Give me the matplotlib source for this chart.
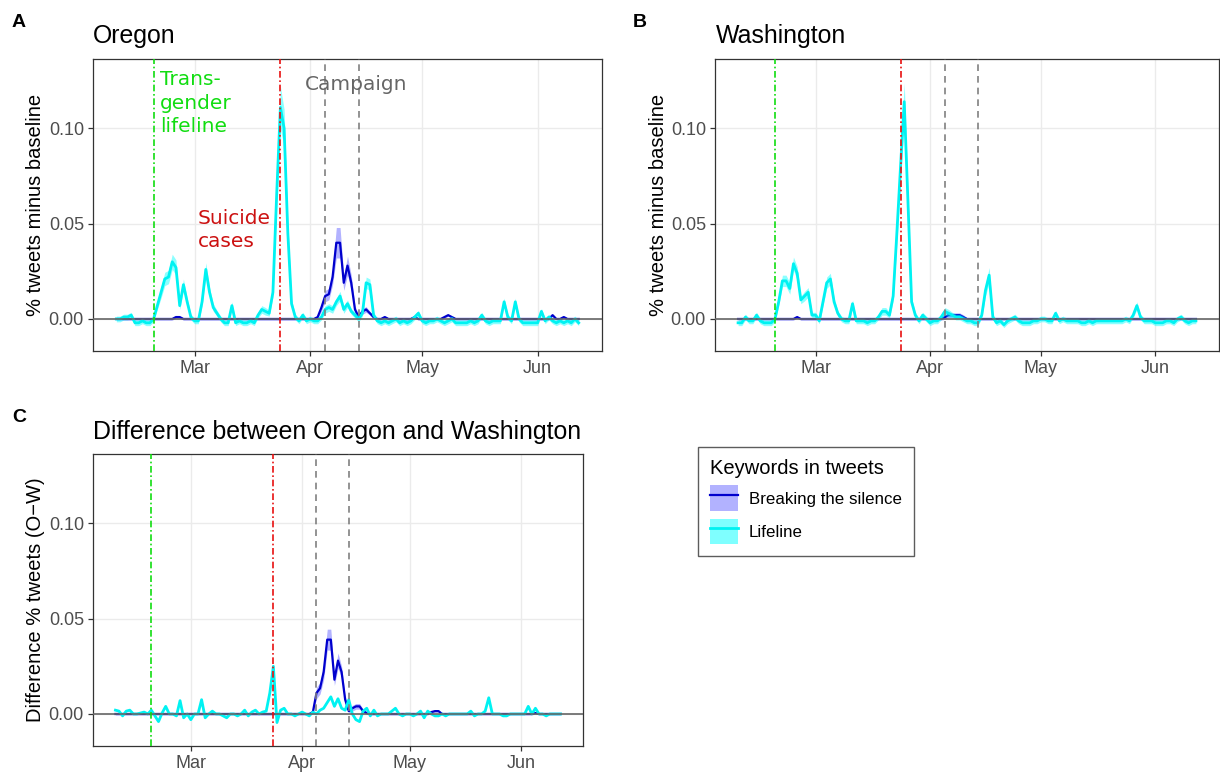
import numpy as np
import matplotlib
matplotlib.use("Agg")
import matplotlib.pyplot as plt
import matplotlib.dates as mdates
from matplotlib.patches import Patch
from matplotlib.lines import Line2D

# ---------------- data ----------------
start_date = "2019-02-08"
n_days = 125
dates = np.arange(np.datetime64(start_date), np.datetime64(start_date) + n_days)

lifeline_date = "2019-02-18"
suicide_date = "2019-03-24"
campaign_dates = ["2019-04-05", "2019-04-14"]

series_labels = ["Breaking the silence", "Lifeline"]
legend_title = "Keywords in tweets"
panel_titles = ["Oregon", "Washington", "Difference between Oregon and Washington"]
panel_tags = ["A", "B", "C"]
ylabels = ["% tweets minus baseline", "% tweets minus baseline", "Difference % tweets (O\u2212W)"]
yticks = [0.00, 0.05, 0.10]
ytick_labels = ["0.00", "0.05", "0.10"]

# Oregon - Lifeline
or_life = [
    0.000, 0.000, 0.001, 0.001, 0.002, -0.002, -0.002, -0.001, -0.002, -0.002,
    0.000, 0.007, 0.014, 0.021, 0.022, 0.030, 0.027, 0.007, 0.018, 0.009,
    0.001, -0.001, -0.001, 0.009, 0.026, 0.014, 0.006, 0.003, 0.000, -0.002,
    -0.002, 0.007, -0.002, -0.001, -0.002, -0.002, -0.001, -0.002, 0.002, 0.005,
    0.004, 0.003, 0.014, 0.065, 0.111, 0.100, 0.045, 0.008, 0.001, -0.001,
    0.002, -0.001, 0.000, -0.001, -0.001, 0.001, 0.005, 0.006, 0.005, 0.009,
    0.012, 0.005, 0.008, 0.004, 0.002, 0.000, 0.003, 0.019, 0.018, 0.002,
    -0.001, -0.002, -0.001, -0.002, -0.001, 0.000, -0.002, -0.001, -0.002, -0.001,
    0.001, 0.003, -0.001, -0.002, -0.001, -0.001, 0.000, -0.001, -0.002, -0.001,
    0.000, -0.002, -0.002, -0.002, -0.002, -0.001, -0.002, -0.001, 0.002, -0.001,
    -0.002, -0.001, -0.001, -0.001, 0.009, 0.001, -0.001, 0.009, 0.000, -0.002,
    -0.002, -0.002, -0.002, -0.002, 0.004, -0.001, 0.001, -0.001, -0.002, -0.001,
    -0.002, -0.001, -0.002, 0.000, -0.002]
or_life_err = (
    [0.0015] * 10
    + [0.0015, 0.002, 0.003, 0.0035, 0.0035, 0.004, 0.004, 0.002, 0.003, 0.002]
    + [0.0015, 0.0015, 0.0015, 0.002, 0.0035, 0.0025, 0.002, 0.0015, 0.0015, 0.0015]
    + [0.0015, 0.002, 0.0015, 0.0015, 0.0015, 0.0015, 0.0015, 0.0015, 0.0015, 0.002]
    + [0.002, 0.0015, 0.0025, 0.007, 0.011, 0.010, 0.006, 0.002, 0.0015, 0.0015]
    + [0.0015, 0.0015, 0.0015, 0.0015, 0.0015, 0.0015, 0.002, 0.002, 0.002, 0.002]
    + [0.0025, 0.002, 0.002, 0.0015, 0.0015, 0.0015, 0.0015, 0.003, 0.003, 0.0015]
    + [0.0015] * 34 + [0.002, 0.0015, 0.0015, 0.002] + [0.0015] * 17)

# Oregon - Breaking the silence
or_bts = (
    [0.0] * 16 + [0.001, 0.001] + [0.0] * 36
    + [0.001, 0.006, 0.012, 0.013, 0.022, 0.040]
    + [0.040, 0.019, 0.028, 0.019, 0.005, 0.001, 0.004, 0.005, 0.003, 0.001]
    + [0.0, 0.0, 0.001, 0.0, 0.0, 0.0, 0.0, 0.0, 0.0, 0.0]
    + [0.001, 0.0, 0.0, 0.0, 0.0, 0.0, 0.0, 0.0, 0.001, 0.002]
    + [0.001] + [0.0] * 26 + [0.002, 0.0, 0.0, 0.001, 0.0, 0.0, 0.0, 0.0])
or_bts_err = (
    [0.0006] * 54
    + [0.0008, 0.002, 0.003, 0.003, 0.004, 0.008]
    + [0.008, 0.004, 0.005, 0.004, 0.002, 0.001, 0.0015, 0.0015, 0.001, 0.001]
    + [0.0006] * 55)

# Washington - Lifeline
wa_life = [
    -0.002, -0.002, 0.001, -0.001, -0.001, 0.002, -0.001, -0.002, -0.002, -0.002,
    0.000, 0.009, 0.020, 0.020, 0.016, 0.029, 0.024, 0.010, 0.012, 0.014,
    0.002, 0.002, -0.001, 0.009, 0.019, 0.021, 0.009, 0.003, 0.000, -0.001,
    -0.001, 0.008, -0.001, -0.001, -0.001, -0.002, -0.001, -0.001, 0.001, 0.004,
    0.004, 0.002, 0.012, 0.045, 0.080, 0.114, 0.062, 0.009, 0.002, -0.001,
    0.002, 0.000, -0.002, -0.001, -0.001, 0.001, 0.004, 0.003, 0.002, 0.001,
    0.001, 0.000, -0.001, -0.001, -0.002, -0.002, 0.002, 0.015, 0.023, 0.001,
    -0.002, -0.001, -0.003, -0.001, 0.000, 0.001, -0.001, -0.002, -0.002, -0.002,
    -0.001, -0.001, 0.000, 0.000, -0.001, -0.001, 0.003, -0.001, 0.000, -0.001,
    -0.001, -0.001, -0.001, -0.002, -0.002, -0.001, -0.002, -0.001, -0.001, -0.001,
    -0.001, -0.001, -0.001, -0.001, -0.001, 0.000, -0.001, 0.002, 0.007, 0.001,
    -0.001, -0.001, -0.001, -0.002, -0.002, -0.002, -0.001, -0.001, -0.002, 0.000,
    0.001, -0.001, -0.002, -0.001, -0.001]
wa_life_err = (
    [0.0015] * 10
    + [0.0015, 0.002, 0.003, 0.003, 0.003, 0.0035, 0.0035, 0.002, 0.0025, 0.0025]
    + [0.0015, 0.0015, 0.0015, 0.002, 0.003, 0.003, 0.002, 0.0015, 0.0015, 0.0015]
    + [0.0015, 0.002, 0.0015, 0.0015, 0.0015, 0.0015, 0.0015, 0.0015, 0.0015, 0.002]
    + [0.002, 0.0015, 0.0025, 0.006, 0.008, 0.010, 0.006, 0.002, 0.0015, 0.0015]
    + [0.0015, 0.0015, 0.0015, 0.0015, 0.0015, 0.0015, 0.002, 0.002, 0.0015, 0.0015]
    + [0.0015, 0.0015, 0.0015, 0.0015, 0.0015, 0.0015, 0.0015, 0.003, 0.004, 0.0015]
    + [0.0015] * 38 + [0.002] + [0.0015] * 16)

# Washington - Breaking the silence
wa_bts = ([0.0] * 16 + [0.001] + [0.0] * 39
          + [0.001, 0.002, 0.002, 0.002, 0.002, 0.001] + [0.0] * 63)
wa_bts_err = [0.0006] * 56 + [0.0012] * 6 + [0.0006] * 63

# Difference (O - W) - Lifeline
diff_life = [
    0.002, 0.0015, -0.001, 0.0015, 0.002, 0.000, 0.000, 0.0005, 0.001, 0.000,
    0.002, -0.001, -0.004, 0.0005, 0.004, 0.000, 0.000, -0.001, 0.007, -0.002,
    0.000, -0.003, 0.000, 0.000, 0.0075, -0.002, 0.000, 0.0015, 0.000, 0.000,
    -0.001, -0.002, 0.000, 0.000, -0.001, 0.000, 0.002, -0.001, 0.001, 0.002,
    0.000, 0.001, 0.0015, 0.011, 0.025, -0.0045, 0.002, 0.003, 0.000, 0.000,
    -0.001, 0.000, 0.001, 0.000, -0.001, 0.001, 0.000, 0.002, 0.003, 0.006,
    0.009, 0.004, 0.008, 0.003, 0.002, 0.0075, 0.000, -0.003, -0.004, 0.0015,
    0.003, -0.001, 0.002, -0.001, 0.000, 0.000, 0.000, 0.0015, 0.003, 0.000,
    -0.001, 0.000, 0.000, -0.001, 0.000, 0.0015, -0.002, 0.0015, 0.000, -0.001,
    -0.001, 0.000, -0.001, 0.000, 0.000, 0.000, 0.000, 0.000, 0.000, 0.0015,
    -0.001, 0.000, 0.000, 0.0015, 0.0085, 0.000, 0.000, 0.000, -0.001, -0.001,
    0.000, 0.000, 0.000, 0.000, 0.000, 0.004, 0.000, 0.003, 0.000, 0.000,
    -0.001, 0.000, 0.000, 0.000, 0.000]

# Difference (O - W) - Breaking the silence
diff_bts = (
    [0.0] * 55
    + [0.001, 0.011, 0.0135, 0.022, 0.039]
    + [0.039, 0.018, 0.028, 0.022, 0.0075, 0.0015, 0.003, 0.004, 0.004, 0.0015]
    + [0.0005] + [0.0] * 17 + [0.001, 0.0015, 0.0015] + [0.0] * 26
    + [0.0005] + [0.0] * 7)
diff_bts_err = (
    [0.0005] * 55
    + [0.001, 0.003, 0.003, 0.004, 0.0055]
    + [0.0055, 0.003, 0.004, 0.003, 0.002, 0.001, 0.0015, 0.0015, 0.0015, 0.001]
    + [0.0005] * 55)

# ---------------- style ----------------
plt.rcParams["font.family"] = ["Liberation Sans", "DejaVu Sans"]
BLUE = "#0000CD"
CYAN = "#00F2F2"
W, H = 1220, 774

fig = plt.figure(figsize=(W / 100, H / 100), dpi=100)


def px_axes(left, top, right, bottom):
    return fig.add_axes([left / W, 1 - bottom / H, (right - left) / W, (bottom - top) / H])


xlim = (np.datetime64(start_date) - np.timedelta64(150, "h"),
        np.datetime64(start_date) + np.timedelta64(n_days - 1, "D") + np.timedelta64(150, "h"))


def draw_panel(ax, bts, bts_err, life, life_err):
    bts = np.asarray(bts); life = np.asarray(life)
    if bts_err is not None:
        e = np.asarray(bts_err)
        ax.fill_between(dates, bts - e, bts + e, color="#0000FF", alpha=0.3, lw=0, zorder=2)
    ax.plot(dates, bts, color=BLUE, lw=1.6, zorder=3)
    if life_err is not None:
        e = np.asarray(life_err)
        ax.fill_between(dates, life - e, life + e, color="#00FFFF", alpha=0.45, lw=0, zorder=4)
    ax.plot(dates, life, color=CYAN, lw=2.0, zorder=5)
    ax.axhline(0, color="#666666", lw=1.2, zorder=6)
    ax.axvline(np.datetime64(lifeline_date), color="#11DD11", lw=1.2,
               dashes=(4, 1.6, 1, 1.6), zorder=7)
    ax.axvline(np.datetime64(suicide_date), color="#E81010", lw=1.2,
               dashes=(4, 1.6, 1, 1.6), zorder=7)
    for d in campaign_dates:
        ax.axvline(np.datetime64(d), color="#808080", lw=1.2, dashes=(4, 3), zorder=7)
    ax.set_xlim(*xlim)
    ax.set_ylim(-0.0168, 0.1364)
    ax.set_yticks(yticks)
    ax.set_yticklabels(ytick_labels)
    ax.xaxis.set_major_locator(mdates.MonthLocator(bymonth=[3, 4, 5, 6]))
    ax.xaxis.set_major_formatter(mdates.DateFormatter("%b"))
    ax.grid(True, color="#EBEBEB", lw=1.0, zorder=0)
    ax.set_axisbelow(True)
    for s in ax.spines.values():
        s.set_color("#333333")
        s.set_linewidth(0.9)
    ax.tick_params(axis="both", colors="#333333", length=3.5, width=0.9,
                   labelsize=13, labelcolor="#4D4D4D", pad=3)


axA = px_axes(93, 59, 602, 351)
axB = px_axes(715, 59, 1219, 351)
axC = px_axes(93, 454, 583, 746)

draw_panel(axA, or_bts, or_bts_err, or_life, or_life_err)
draw_panel(axB, wa_bts, wa_bts_err, wa_life, wa_life_err)
draw_panel(axC, diff_bts, diff_bts_err, diff_life, None)

# annotations on panel A
axA.text(np.datetime64("2019-02-19T16"), 0.1133, "Trans-\ngender\nlifeline",
         color="#11DD11", fontsize=14.5, family="DejaVu Sans", ha="left", va="center",
         linespacing=1.32, zorder=8)
axA.text(np.datetime64("2019-03-01T20"), 0.0467, "Suicide\ncases",
         color="#CC1111", fontsize=14.5, family="DejaVu Sans", ha="left", va="center",
         linespacing=1.32, zorder=8)
axA.text(np.datetime64("2019-04-13T10"), 0.1231, "Campaign",
         color="#666666", fontsize=14.5, family="DejaVu Sans", ha="center", va="center",
         zorder=8)

# titles, tags, axis labels
for (x, y), t in zip([(93, 43), (716, 43), (93, 439)], panel_titles):
    fig.text(x / W, 1 - y / H, t, fontsize=17.9, ha="left", va="baseline", color="black")
for (x, y), t in zip([(12, 27), (633, 27), (12, 422)], panel_tags):
    fig.text(x / W, 1 - y / H, t, fontsize=14, fontweight="bold", ha="left", va="baseline")
for (x, y), t in zip([(36, 205), (658, 205), (36, 600)], ylabels):
    fig.text(x / W, 1 - y / H, t, fontsize=14.5, rotation=90, ha="center", va="center")

# legend
handles = [
    (Patch(facecolor="#0000FF", alpha=0.3, edgecolor="none"), Line2D([], [], color=BLUE, lw=1.6)),
    (Patch(facecolor="#00FFFF", alpha=0.5, edgecolor="none"), Line2D([], [], color=CYAN, lw=2.0)),
]
leg = fig.legend(handles, series_labels, title=legend_title, loc="upper left",
                 bbox_to_anchor=(698 / W, 1 - 447 / H), borderaxespad=0.0,
                 frameon=True, fancybox=False,
                 edgecolor="#333333", fontsize=12.2, title_fontsize=14.5,
                 handlelength=1.65, handleheight=1.95, handletextpad=0.65,
                 labelspacing=0.45, borderpad=0.7, alignment="left")
leg.get_frame().set_linewidth(1.0)

fig.savefig("out.png", dpi=100)
